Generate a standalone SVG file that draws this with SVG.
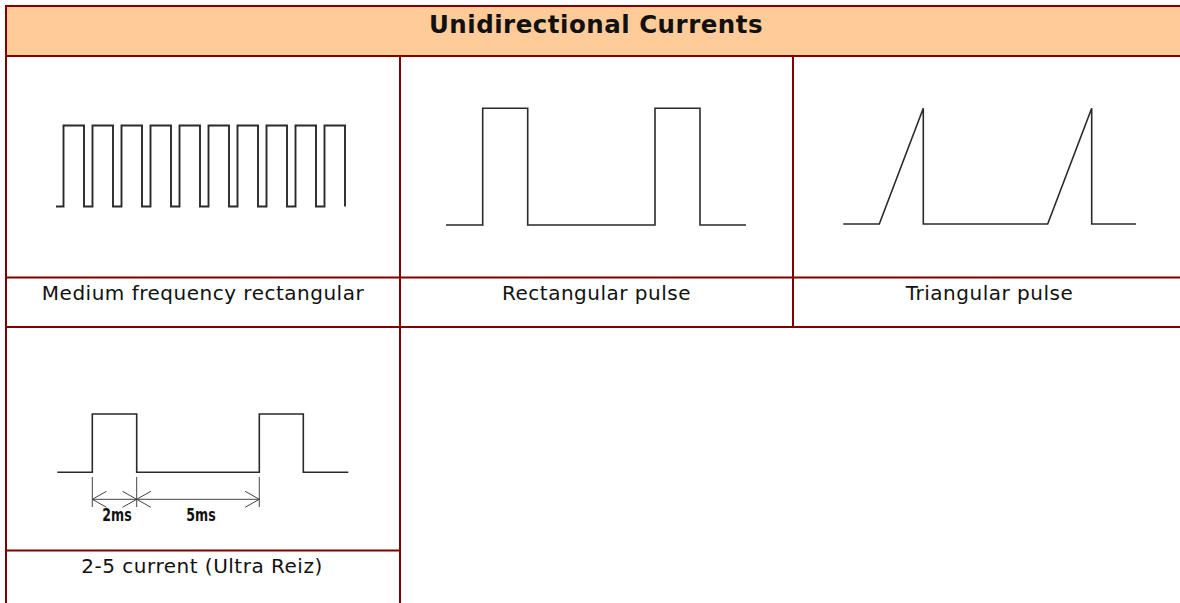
<svg xmlns="http://www.w3.org/2000/svg" width="1180" height="603" viewBox="0 0 1180 603">
<style>
.grid{stroke:#800000;stroke-width:2;fill:none}
.wave{stroke:#2a2a2a;stroke-width:1.6;fill:none;stroke-linejoin:miter}
.dim{stroke:#444;stroke-width:1;fill:none}
.cap{font-family:"DejaVu Sans",Verdana,sans-serif;font-size:20px;letter-spacing:0.5px;fill:#111;text-anchor:middle}
.title{font-family:"DejaVu Sans",Verdana,sans-serif;font-size:24.5px;font-weight:bold;letter-spacing:0.5px;fill:#111;text-anchor:middle}
.ms{font-family:"DejaVu Sans","Liberation Sans",sans-serif;font-weight:bold;font-size:17.5px;fill:#111;text-anchor:middle}
</style>
<rect width="1180" height="603" fill="#ffffff"/>
<g id="header">
<rect x="6" y="6" width="1180" height="50" fill="#FFCC99"/>
<text class="title" x="596" y="32.5">Unidirectional Currents</text>
</g>
<g id="grid" class="grid">
<line x1="5" y1="6" x2="1180" y2="6"/>
<line x1="5" y1="56" x2="1180" y2="56"/>
<line x1="6" y1="5" x2="6" y2="603"/>
<line x1="400" y1="56" x2="400" y2="603"/>
<line x1="793" y1="56" x2="793" y2="328"/>
<line x1="6" y1="277.5" x2="1180" y2="277.5"/>
<line x1="6" y1="327" x2="1180" y2="327"/>
<line x1="6" y1="550.5" x2="400" y2="550.5"/>
</g>
<g id="medium-frequency">
<path class="wave" style="stroke-width:1.9" d="M56,206.5 H63.5 V125.5 H84 V206.5 H92.5 V125.5 H113 V206.5 H121.5 V125.5 H142 V206.5 H150.5 V125.5 H171 V206.5 H179.5 V125.5 H200 V206.5 H208.5 V125.5 H229 V206.5 H237.5 V125.5 H258 V206.5 H266.5 V125.5 H287 V206.5 H295.5 V125.5 H316 V206.5 H324.5 V125.5 H345 V206.5"/>
<text class="cap" x="203" y="299.5">Medium frequency rectangular</text>
</g>
<g id="rectangular-pulse">
<path class="wave" d="M446,225 H482.7 V108.3 H527.7 V225 H655 V108.3 H700 V225 H746"/>
<text class="cap" x="596.5" y="299.5">Rectangular pulse</text>
</g>
<g id="triangular-pulse">
<path class="wave" d="M843.3,224 H879.3 L923.3,108.3 V224 H1047.7 L1091.7,108.3 V224 H1136"/>
<text class="cap" x="989.5" y="299.5">Triangular pulse</text>
</g>
<g id="two-five-current">
<path class="wave" d="M57.3,472.3 H92.3 V414 H136.7 V472.3 H259.3 V414 H303.3 V472.3 H348.3"/>
<g class="dim">
<line x1="92.3" y1="477" x2="92.3" y2="507"/>
<line x1="136.7" y1="477" x2="136.7" y2="507"/>
<line x1="259.3" y1="477" x2="259.3" y2="507"/>
<line x1="92.3" y1="499.3" x2="259.3" y2="499.3"/>
<path d="M106.5,491.3 L92.3,499.3 L106.5,507.3"/>
<path d="M122.5,491.3 L136.7,499.3 L122.5,507.3"/>
<path d="M150.9,491.3 L136.7,499.3 L150.9,507.3"/>
<path d="M245.1,491.3 L259.3,499.3 L245.1,507.3"/>
</g>
<text class="ms" transform="translate(117,520.5) scale(0.72,1)">2ms</text>
<text class="ms" transform="translate(201,520.5) scale(0.72,1)">5ms</text>
<text class="cap" x="202" y="572.7">2-5 current (Ultra Reiz)</text>
</g>
</svg>
